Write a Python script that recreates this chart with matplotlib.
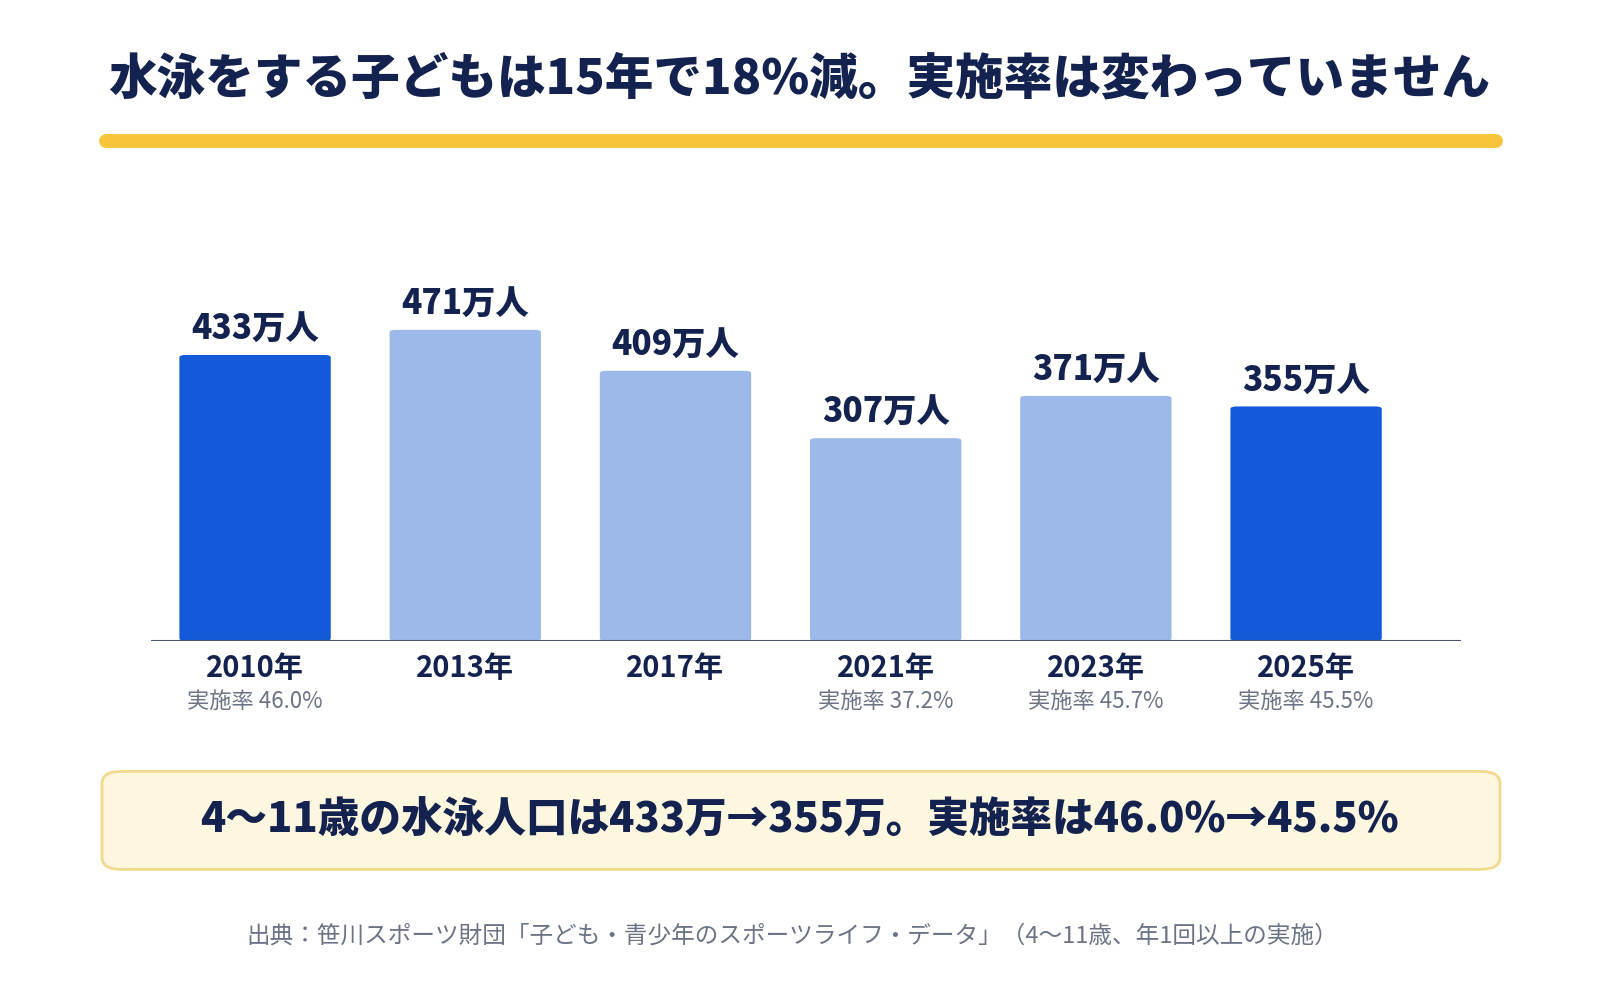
import matplotlib.pyplot as plt
from matplotlib.patches import FancyBboxPatch

plt.rcParams['font.family'] = ['Noto Sans CJK JP', 'DejaVu Sans']

years = ["2010年", "2013年", "2017年", "2021年", "2023年", "2025年"]
swimmers = [433, 471, 409, 307, 371, 355]
rates = ["実施率 46.0%", "", "", "実施率 37.2%", "実施率 45.7%", "実施率 45.5%"]
highlight = [True, False, False, False, False, True]

W, H = 1568, 980
navy = "#14224f"
fig = plt.figure(figsize=(16, 10), dpi=100)

def fx(x): return x / W
def fy(y): return 1 - y / H

fig.text(fx(783), fy(78), "水泳をする子どもは15年で18%減。実施率は変わっていません",
         ha="center", va="center", fontsize=35, fontweight="black", color=navy)
fig.add_artist(plt.Line2D([fx(104), fx(1466)], [fy(138), fy(138)], color="#f8c53a",
                          linewidth=10, solid_capstyle="round"))

ax = fig.add_axes([fx(148), fy(628), fx(1432 - 148), (628 - 304.5) / H])
colors = ["#1459d8" if h else "#9db9ea" for h in highlight]
for i, v in enumerate(swimmers):
    ax.add_patch(FancyBboxPatch((i - 0.36, 0), 0.72, v, boxstyle="round,pad=0,rounding_size=0.03",
                                mutation_aspect=120, facecolor=colors[i], edgecolor="none"))
    ax.text(i, v + 12, f"{v}万人", ha="center", va="bottom", fontsize=24,
            fontweight="black", color=navy)
    ax.text(i, -18, years[i], ha="center", va="top", fontsize=21, color=navy, fontweight="bold")
    ax.text(i, -74, rates[i], ha="center", va="top", fontsize=16, color="#6b7385")
ax.set_xlim(-0.495, 5.738)
ax.set_ylim(0, 500)
ax.axhline(0, color="#4a5470", linewidth=1.5)
ax.axis("off")

fig.add_artist(FancyBboxPatch((fx(100), fy(852)), fx(1370), (852 - 756) / H,
                              boxstyle="round,pad=0,rounding_size=0.012",
                              facecolor="#fdf7df", edgecolor="#f2da8c", linewidth=2,
                              transform=fig.transFigure))
fig.text(fx(783), fy(804), "4〜11歳の水泳人口は433万→355万。実施率は46.0%→45.5%",
         ha="center", va="center", fontsize=30, fontweight="black", color=navy)

fig.text(fx(776), fy(917), "出典：笹川スポーツ財団「子ども・青少年のスポーツライフ・データ」（4〜11歳、年1回以上の実施）",
         ha="center", va="center", fontsize=17, color="#6b7385")

fig.savefig("out.png", dpi=100, facecolor="white")
